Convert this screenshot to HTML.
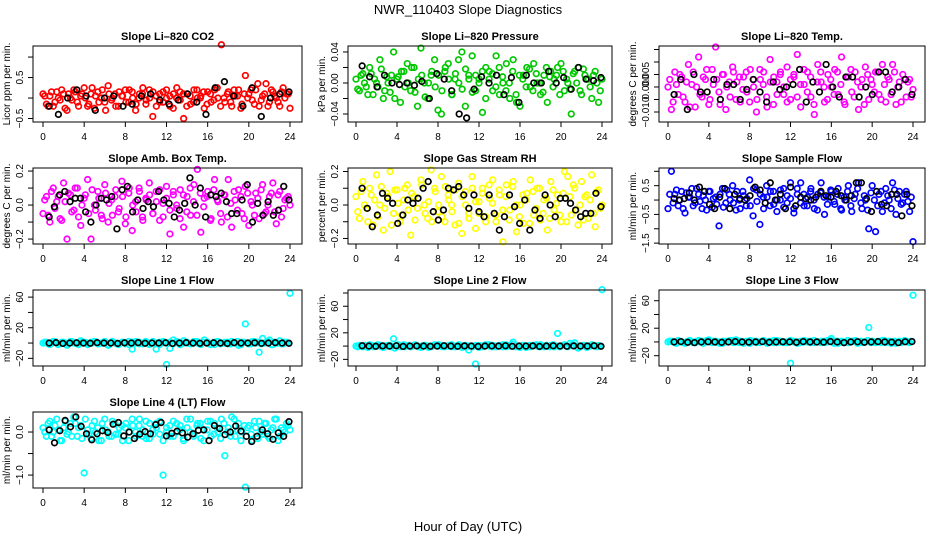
<!DOCTYPE html>
<html><head><meta charset="utf-8">
<style>
html,body{margin:0;padding:0;background:#fff;}
svg{display:block;font-family:"Liberation Sans",Arial,sans-serif;}
</style></head>
<body>
<svg id="chart" width="936" height="540" viewBox="0 0 936 540">
<text x="468" y="14" text-anchor="middle" font-size="13">NWR_110403  Slope Diagnostics</text>
<text x="468" y="531" text-anchor="middle" font-size="13">Hour of Day (UTC)</text>
</svg>
<script>
// ---- data ----
const co2Color=[0.1,-0.15,0.05,-0.2,0.15,-0.05,0.1,-0.3,0.0,0.2,-0.1,0.05,0.25,-0.2,0.1,-0.25,0.15,0.0,-0.1,0.3,-0.05,0.1,-0.2,0.05,0.2,-0.1,0.15,-0.3,0.0,0.1,-0.15,0.2,-0.45,0.05,-0.1,0.15,0.0,-0.2,0.1,0.25,-0.05,-0.5,0.1,-0.15,0.2,0.0,0.05,-0.25,0.15,-0.1,0.2,0.0,1.3,-0.1,0.15,-0.2,0.05,0.2,-0.15,0.55,0.1,-0.05,0.2,-0.2,0.05,0.35,-0.1,0.15,0.0,-0.2,0.25,0.1,-0.25];
const co2Color2=[0.05,-0.2,0.15,-0.1,0.0,0.2,-0.25,0.1,-0.05,0.15,-0.2,0.1,0.0,-0.15,0.25,0.05,-0.1,0.2,-0.3,0.1,0.0,-0.2,0.15,0.05,-0.1,0.2,0.0,-0.15,0.1,0.25,-0.05,0.0,0.15,-0.2,0.1,-0.1,0.2,0.05,-0.25,0.0,0.15,0.1,-0.2,0.05,-0.1,0.2,0.0,0.15,-0.15,0.1,-0.05,0.25,-0.2,0.0,0.1,-0.1,0.2,0.05,-0.25,0.1,0.0,0.2,-0.15,0.35,-0.05,0.1,-0.2,0.2,0.05,-0.1,0.15,0.0,0.1];
const co2Black=[-0.2,-0.4,0.0,0.2,0.05,-0.3,0.0,0.05,-0.2,-0.15,0.05,0.1,-0.05,-0.15,-0.05,0.1,-0.1,-0.4,0.25,0.4,0.05,-0.2,0.25,-0.45,0.0,0.1,0.15];
const presColor=[0.005,-0.01,0.012,-0.005,0.02,-0.015,0.0,0.03,-0.02,0.008,-0.012,0.04,0.005,-0.025,0.015,0.025,-0.01,0.02,-0.03,0.045,0.0,-0.02,0.01,0.03,-0.035,-0.04,0.015,0.025,-0.015,0.005,0.03,0.04,-0.03,0.01,0.035,-0.01,0.005,-0.038,0.02,0.015,-0.01,0.035,-0.015,0.0,0.025,-0.02,0.03,-0.025,-0.03,0.01,0.02,-0.005,0.025,0.0,-0.015,0.01,-0.025,0.015,0.005,0.02,0.025,-0.01,0.0,-0.04,0.015,0.02,-0.015,0.01,0.005,-0.02,0.015,-0.025,0.005];
const presColor2=[-0.008,0.01,0.0,-0.015,0.012,0.005,-0.005,0.018,-0.01,0.0,0.01,-0.02,0.008,0.015,-0.005,0.0,0.02,-0.012,0.005,0.01,-0.018,0.0,0.015,-0.005,0.01,-0.01,0.02,0.005,-0.015,0.012,0.0,-0.008,0.018,0.005,-0.012,0.01,0.0,0.015,-0.02,0.005,0.012,-0.005,0.02,0.008,-0.01,0.0,0.015,-0.015,0.01,0.005,-0.005,0.018,-0.01,0.012,0.0,-0.012,0.02,0.008,-0.005,0.01,-0.015,0.015,0.005,-0.008,0.012,0.0,-0.01,0.018,0.005,-0.005,0.01,0.0,-0.01];
const presBlack=[0.022,0.008,-0.005,0.01,0.0,-0.002,0.0,-0.003,0.002,-0.02,0.012,0.005,-0.01,-0.04,-0.045,-0.008,0.008,0.0,0.01,-0.015,0.007,-0.025,0.01,0.0,0.0,0.015,0.0,0.007,-0.008,0.02,0.005,0.003,0.007];
const tempColor=[0.0,-0.009,0.006,-0.003,0.004,-0.006,0.009,0.001,-0.008,0.012,-0.004,0.003,-0.007,0.007,0.016,-0.002,0.005,-0.009,0.002,0.008,-0.005,0.004,-0.001,0.006,-0.006,0.003,-0.01,0.007,0.001,-0.004,0.011,-0.007,0.002,0.005,-0.003,0.008,-0.005,0.004,0.013,-0.008,0.001,0.006,-0.004,-0.011,0.009,0.002,-0.006,0.005,0.0,0.007,-0.003,0.012,-0.007,0.004,-0.002,0.006,-0.009,0.003,0.008,-0.005,0.001,0.006,-0.003,0.009,-0.006,0.003,0.009,-0.007,0.002,0.005,-0.004,0.003,-0.001];
const tempColor2=[0.003,-0.006,0.001,0.005,-0.004,0.002,-0.008,0.006,0.0,-0.003,0.004,0.007,-0.005,0.001,0.003,-0.007,0.005,0.0,-0.004,0.006,0.002,-0.006,0.004,-0.002,0.007,0.0,-0.005,0.003,0.006,-0.008,0.002,0.004,-0.003,0.006,0.0,-0.006,0.003,0.005,-0.004,0.001,0.007,-0.002,0.004,-0.007,0.002,0.006,0.0,-0.005,0.003,-0.003,0.006,0.001,-0.006,0.004,0.007,-0.004,0.002,0.0,-0.007,0.005,0.003,-0.002,0.006,-0.005,0.001,0.004,-0.003,0.006,0.0,-0.006,0.003,0.002,-0.004];
const tempBlack=[-0.003,0.003,-0.009,0.005,-0.002,-0.002,0.003,-0.005,0.001,0.001,-0.005,-0.001,0.003,-0.002,-0.006,0.002,-0.001,0.0,0.001,0.007,-0.006,0.002,-0.002,0.009,0.0,-0.004,0.004,0.004,-0.004,0.0,-0.003,0.006,0.006,-0.002,0.0,0.003,-0.003];
const ambColor=[-0.05,0.05,-0.1,0.1,0.02,-0.08,0.13,-0.2,0.06,-0.03,0.1,-0.12,0.04,0.15,-0.2,0.0,0.08,-0.06,0.12,-0.1,0.03,0.05,-0.04,0.14,-0.11,0.07,-0.15,0.02,0.1,-0.07,0.04,0.13,-0.05,0.08,-0.09,0.01,0.11,-0.17,0.06,-0.02,0.09,-0.13,0.05,-0.06,0.12,0.21,-0.16,0.04,0.08,-0.08,0.15,0.02,-0.1,0.06,0.15,-0.13,0.03,0.09,-0.05,0.11,-0.12,0.0,0.07,-0.08,0.12,-0.04,0.05,0.13,-0.11,0.08,-0.02,0.04,0.0];
const ambColor2=[0.03,-0.06,0.08,-0.02,0.05,-0.09,0.02,0.07,-0.04,0.1,-0.07,0.0,0.06,-0.05,0.09,-0.03,0.04,-0.08,0.07,0.01,-0.06,0.09,-0.02,0.05,-0.07,0.1,0.0,-0.04,0.08,-0.09,0.03,0.06,-0.05,0.02,0.09,-0.07,0.04,-0.03,0.08,0.0,-0.08,0.06,-0.04,0.1,0.02,-0.06,0.07,-0.01,0.05,-0.09,0.09,0.03,-0.05,0.06,-0.07,0.01,0.08,-0.03,0.05,-0.08,0.07,0.02,-0.06,0.04,0.09,-0.05,0.0,0.07,-0.04,0.06,-0.07,0.03,0.05];
const ambBlack=[-0.07,-0.01,0.06,0.08,0.02,0.04,0.04,-0.04,-0.1,0.0,0.04,0.03,0.05,-0.14,0.09,0.11,-0.04,0.03,-0.02,0.02,-0.01,0.08,0.03,0.01,-0.07,-0.03,0.01,0.16,0.0,0.1,-0.07,0.06,0.05,0.07,0.02,-0.05,-0.05,0.03,0.12,-0.1,0.01,-0.06,0.02,-0.06,-0.03,0.11,0.03];
const rhColor=[0.05,-0.08,0.14,-0.02,0.1,-0.12,0.18,0.0,-0.15,0.07,0.2,-0.05,0.09,-0.1,0.03,0.12,-0.18,0.05,-0.02,0.15,0.0,-0.08,0.21,0.1,-0.04,0.17,-0.1,0.06,0.0,-0.12,0.13,-0.17,0.08,-0.05,0.17,-0.14,0.02,0.1,-0.07,0.04,0.15,-0.1,0.06,-0.22,0.12,-0.03,0.14,-0.16,0.0,-0.11,0.07,0.15,-0.06,0.1,-0.09,0.03,-0.15,0.14,-0.03,0.06,-0.1,0.2,0.17,-0.06,0.1,-0.12,0.14,0.05,-0.08,0.18,-0.13,0.09,0.0];
const rhColor2=[-0.04,0.08,0.0,-0.1,0.06,0.03,-0.07,0.11,-0.02,0.05,-0.12,0.09,0.01,-0.06,0.1,-0.03,0.07,-0.09,0.04,0.12,-0.05,0.02,-0.1,0.08,0.0,-0.07,0.11,0.03,-0.04,0.09,-0.11,0.05,0.0,-0.08,0.1,0.02,-0.05,0.07,-0.1,0.12,0.01,-0.06,0.09,-0.03,0.05,-0.09,0.11,0.0,-0.07,0.06,0.03,-0.11,0.08,-0.02,0.1,-0.05,0.04,-0.08,0.09,0.01,-0.06,0.07,-0.1,0.05,0.12,-0.03,0.0,-0.09,0.06,0.03,-0.05,0.08,-0.02];
const rhBlack=[0.1,-0.02,-0.13,-0.06,0.07,0.04,0.01,-0.11,-0.06,0.03,0.01,0.04,0.1,0.14,-0.04,-0.09,-0.03,0.1,0.09,0.11,0.06,-0.02,0.06,-0.04,-0.07,0.06,-0.05,-0.15,-0.07,0.06,-0.01,-0.11,0.03,-0.15,-0.03,-0.08,0.06,0.0,-0.07,0.04,0.04,0.01,-0.03,-0.07,-0.05,-0.05,0.07,-0.01];
const sfColor=[-0.3,1.0,0.2,-0.2,0.3,-0.45,0.1,0.4,-0.1,0.2,-0.3,0.0,0.3,-0.25,0.1,-0.9,0.4,-0.1,0.2,0.5,-0.35,0.0,0.3,-0.2,0.7,-0.55,0.35,-0.85,0.1,0.5,-0.2,0.3,-0.4,0.0,0.4,-0.1,0.6,-0.45,0.2,0.6,-0.2,0.1,0.4,-0.3,0.2,0.6,-0.5,0.1,0.3,-0.15,0.4,-0.35,0.0,0.5,-0.4,0.2,0.6,-0.3,0.0,-1.0,0.5,-1.1,0.2,-0.4,0.4,0.0,0.6,-0.5,0.3,-0.1,0.3,-0.4,-1.45];
const sfColor2=[0.2,-0.1,0.35,0.0,-0.3,0.25,0.1,-0.2,0.4,-0.05,0.15,-0.35,0.3,0.05,-0.15,0.2,-0.25,0.35,0.0,-0.1,0.3,-0.3,0.15,0.05,-0.2,0.4,-0.05,0.2,-0.3,0.1,0.3,-0.15,0.0,0.35,-0.25,0.15,0.05,-0.3,0.4,-0.1,0.2,-0.2,0.3,0.0,-0.35,0.25,0.1,-0.15,0.35,-0.05,0.2,-0.3,0.1,0.3,-0.2,0.05,0.4,-0.1,0.15,-0.35,0.25,0.0,-0.2,0.3,-0.1,0.15,-0.3,0.35,0.05,-0.15,0.2,-0.05,0.1];
const sfBlack=[0.05,0.0,0.05,0.25,0.0,0.45,0.3,-0.15,-0.3,0.1,0.4,-0.3,0.2,0.05,0.0,0.15,0.45,0.35,-0.1,0.6,0.0,0.2,-0.3,0.45,-0.2,0.1,0.05,0.0,0.1,0.3,0.15,0.1,0.3,0.15,0.0,0.15,0.6,0.6,0.05,-0.4,0.3,-0.15,-0.2,0.2,0.2,-0.55,0.2,-0.2];
const l1Color=[0,1,-2,2,0,-1,1,-3,2,0,-1,3,0,-2,1,2,-1,0,2,-3,1,0,-2,1,-1,2,-8,0,1,-1,2,-2,0,-8,1,2,-28,-7,4,1,-2,3,0,-1,2,0,-2,4,1,-1,-2,2,0,1,-1,2,0,-3,1,25,-1,2,0,-12,6,1,4,-2,0,3,-1,1,65];
const l1Color2=[1,-1,0,2,-2,1,0,-1,2,0,-2,1,1,-1,0,2,-1,0,1,-2,2,0,-1,1,0,-2,1,2,-1,0,1,-1,2,0,-2,1,0,1,-1,2,-2,0,1,-1,0,2,-1,1,0,-2,1,2,-1,0,1,-1,0,2,-2,1,0,-1,2,1,-1,0,2,-2,1,0,-1,1,0];
const l1Black=[0,0.5,-0.5,0,0.3,0,-0.3,0.5,0,0,-0.5,0.3,0,0.5,-0.3,0,0,0.3,-0.5,0,0.5,0,-0.3,0,0.3,0,-0.5,0.5,0,0,0.3,-0.3,0,0.5,0,-0.3];
const l2Color=[0,1,-1,0,2,-1,0,1,-2,0,1,11,0,-1,2,0,-1,1,0,-2,1,0,-1,2,0,1,-1,0,2,-1,1,0,-1,-6,0,-27,1,-1,2,0,1,-1,0,2,-1,1,6,0,-2,1,0,-1,1,0,2,-1,0,1,-1,19,0,2,-1,1,5,-3,0,1,-1,2,0,1,85];
const l2Color2=[-1,0,1,-2,1,0,2,-1,0,1,-1,-3,2,0,-1,1,0,2,-1,0,1,-2,0,1,2,-1,0,1,-1,0,2,-2,1,0,-1,1,-2,0,1,2,-1,0,1,-1,2,0,3,-1,0,1,-2,1,0,2,-1,0,1,-1,2,0,-1,1,0,4,2,-1,0,1,-2,0,1,-1,0];
const l2Black=[0.5,0,-0.3,0.3,0,0.5,-0.5,0,0.3,0,-0.3,0,0.5,0,-0.3,0.3,0,-0.5,0,0.3,0,0.5,-0.3,0,0,0.3,-0.5,0,0.5,0,-0.3,0.3,0,0,0.5,-0.3];
const l3Color=[0,1,-1,2,0,-2,1,0,-1,2,1,0,3,-1,1,0,-2,1,0,2,3,-1,0,1,-2,0,1,-1,2,0,1,-1,2,0,-1,0,-31,1,0,-1,2,0,1,-1,0,1,-1,2,5,0,-2,1,0,-1,1,2,0,-1,0,21,1,-1,0,2,-1,1,0,-2,1,0,1,-1,68];
const l3Color2=[1,0,-2,1,-1,0,2,-1,1,0,-2,2,0,1,-1,-2,1,0,2,-1,0,1,-2,0,2,1,-1,0,1,-2,0,2,-1,1,0,-1,2,0,-2,1,0,1,-1,2,0,-1,1,0,2,-2,1,0,-1,2,0,1,-2,1,0,2,-1,0,1,-1,2,0,-2,1,0,-1,2,0,1];
const l3Black=[0,0.5,-0.5,-1,0,0.3,0,-0.5,0,0.5,0,-0.3,0,0.5,-0.5,0,0.3,0,-0.5,0.5,0,0,-0.3,0.5,0,-1,0,0.3,-0.5,0,0.5,0,-0.3,-1,0.3,0.5];
const l4Color=[0.1,-0.1,0.25,0.0,0.3,-0.2,0.1,-0.05,0.2,0.35,-0.1,0.15,-0.95,0.05,-0.15,0.25,0.1,-0.2,0.3,0.0,-0.1,0.2,-0.05,0.15,0.1,-0.2,0.3,0.0,0.15,-0.1,0.25,-0.15,0.05,0.2,-0.05,-1.0,0.1,-0.1,0.25,0.0,0.15,-0.2,0.1,0.3,-0.05,0.2,-0.15,0.05,0.25,-0.1,0.2,0.0,0.3,-0.55,0.1,0.35,-0.1,0.2,0.0,-1.28,0.15,-0.2,0.1,0.25,-0.05,0.2,-0.15,0.1,0.3,-0.1,0.05,0.2,0.05];
const l4Color2=[0.0,0.2,-0.1,0.15,0.05,-0.2,0.25,0.0,-0.1,0.2,0.1,-0.15,0.3,-0.05,0.15,0.0,-0.2,0.2,0.05,-0.1,0.25,-0.05,0.1,-0.2,0.2,0.0,0.15,-0.1,0.3,0.05,-0.15,0.2,-0.05,0.1,0.25,-0.2,0.0,0.15,-0.1,0.2,0.05,-0.15,0.3,0.0,-0.1,0.15,0.2,-0.2,0.05,0.25,-0.05,0.1,-0.15,0.2,0.0,-0.1,0.3,0.05,-0.2,0.15,0.1,-0.05,0.25,-0.15,0.0,0.2,-0.1,0.05,0.3,-0.2,0.1,0.0,0.15];
const l4Black=[0.05,-0.25,0.03,0.27,0.12,0.35,0.13,-0.04,-0.18,-0.04,0.03,-0.01,0.18,0.22,-0.09,0.0,-0.15,-0.05,0.01,-0.04,0.17,0.22,-0.09,-0.03,0.02,-0.02,-0.12,-0.04,0.04,0.05,-0.2,0.15,0.08,-0.06,0.0,0.14,0.02,-0.1,-0.22,-0.1,0.05,-0.04,-0.17,-0.02,-0.1,0.24];
const xTickLabels=[0,4,8,12,16,20,24];
const hourStart=0, hourEnd=24, blackStart=0.6, blackEnd=23.9, series2Start=0.17, series2End=23.83;

// ---- layout ----
const colX=[[33,302,43,290],[348,612,356,602],[659,925,668,913]];
const rowY=[46,168,290,412]; const boxH=76;
const panels=[
 {name:'co2',title:'Slope Li\u2013820 CO2',ylab:'Licor ppm per min.',col:'#ff0000',c:co2Color,c2:co2Color2,b:co2Black,lo:-0.585,hi:1.27,ticks:[-0.5,0,0.5,1.0],labels:[[-0.5,'\u22120.5'],[0.5,'0.5']],r:0,k:0},
 {name:'pressure',title:'Slope Li\u2013820 Pressure',ylab:'kPa per min.',col:'#00c800',c:presColor,c2:presColor2,b:presBlack,lo:-0.0503,hi:0.0477,ticks:[-0.04,-0.02,0,0.02,0.04],labels:[[-0.04,'\u22120.04'],[0,'0.00'],[0.04,'0.04']],r:0,k:1},
 {name:'temp',title:'Slope Li\u2013820 Temp.',ylab:'degrees C per min.',col:'#ff00ff',c:tempColor,c2:tempColor2,b:tempBlack,lo:-0.014,hi:0.0164,ticks:[-0.01,-0.005,0,0.005,0.01,0.015],labels:[[-0.01,'\u22120.010'],[0,'0.000'],[0.005,'0.005']],r:0,k:2},
 {name:'amb-box-temp',title:'Slope Amb. Box Temp.',ylab:'degrees C per min.',col:'#ff00ff',c:ambColor,c2:ambColor2,b:ambBlack,lo:-0.229,hi:0.218,ticks:[-0.2,-0.1,0,0.1,0.2],labels:[[-0.2,'\u22120.2'],[0,'0.0'],[0.2,'0.2']],r:1,k:0},
 {name:'gas-stream-rh',title:'Slope Gas Stream RH',ylab:'percent per min.',col:'#ffff00',c:rhColor,c2:rhColor2,b:rhBlack,lo:-0.233,hi:0.221,ticks:[-0.2,-0.1,0,0.1,0.2],labels:[[-0.2,'\u22120.2'],[0,'0.0'],[0.2,'0.2']],r:1,k:1},
 {name:'sample-flow',title:'Slope Sample Flow',ylab:'ml/min per min.',col:'#0000ff',c:sfColor,c2:sfColor2,b:sfBlack,lo:-1.53,hi:1.115,ticks:[-1.5,-1,-0.5,0,0.5,1],labels:[[-1.5,'\u22121.5'],[-0.5,'\u22120.5'],[0.5,'0.5']],r:1,k:2},
 {name:'line-1-flow',title:'Slope Line 1 Flow',ylab:'ml/min per min.',col:'#00ffff',c:l1Color,c2:l1Color2,b:l1Black,lo:-30,hi:69.3,ticks:[-20,0,20,40,60],labels:[[-20,'\u221220'],[20,'20'],[60,'60']],r:2,k:0},
 {name:'line-2-flow',title:'Slope Line 2 Flow',ylab:'ml/min per min.',col:'#00ffff',c:l2Color,c2:l2Color2,b:l2Black,lo:-30,hi:84.5,ticks:[-20,0,20,40,60,80],labels:[[-20,'\u221220'],[20,'20'],[60,'60']],r:2,k:1},
 {name:'line-3-flow',title:'Slope Line 3 Flow',ylab:'ml/min per min.',col:'#00ffff',c:l3Color,c2:l3Color2,b:l3Black,lo:-35,hi:75.6,ticks:[-20,0,20,40,60],labels:[[-20,'\u221220'],[20,'20'],[60,'60']],r:2,k:2},
 {name:'line-4-flow',title:'Slope Line 4 (LT) Flow',ylab:'ml/min per min.',col:'#00ffff',c:l4Color,c2:l4Color2,b:l4Black,lo:-1.30,hi:0.465,ticks:[-1,-0.5,0],labels:[[-1,'\u22121.0'],[0,'0.0']],r:3,k:0}
];
const NS='http://www.w3.org/2000/svg';
const svg=document.getElementById('chart');
function mk(tag,attrs,parent){const e=document.createElementNS(NS,tag);for(const k in attrs)e.setAttribute(k,attrs[k]);(parent||svg).appendChild(e);return e;}

panels.forEach(p=>{
  const [bx0,bx1,ax0,ax1]=colX[p.k]; const by0=rowY[p.r], by1=by0+boxH;
  const xs=h=>ax0+(h-hourStart)/(hourEnd-hourStart)*(ax1-ax0);
  const ys=v=>by1-(v-p.lo)/(p.hi-p.lo)*(by1-by0);
  const g=mk('g',{});
  
  
  const t=mk('text',{x:(bx0+bx1)/2,y:by0-6,'text-anchor':'middle','font-size':11,'font-weight':'bold'},g);
  t.textContent=p.title;
  
  
  const pts=mk('g',{fill:'none','stroke-width':1.7},g);
  
  
  p.c.forEach((v,i)=>{
    const h=hourStart+i*(hourEnd-hourStart)/(p.c.length-1);
    const c=mk('circle',{cx:xs(h),cy:ys(v),r:2.8,stroke:p.col},pts);
    
    
  });
  p.c2.forEach((v,i)=>{
    const h=series2Start+i*(series2End-series2Start)/(p.c2.length-1);
    const c=mk('circle',{cx:xs(h),cy:ys(v),r:2.8,stroke:p.col},pts);
    
    
  });
  p.b.forEach((v,i)=>{
    const h=blackStart+i*(blackEnd-blackStart)/(p.b.length-1);
    const c=mk('circle',{cx:xs(h),cy:ys(v),r:2.8,stroke:'#000'},pts);
    
    
  });
  const box=mk('rect',{x:bx0,y:by0,width:bx1-bx0,height:boxH,fill:'none',stroke:'#000','stroke-width':1},g);
  
  
  const xa=mk('g',{},g);
  
  
  xTickLabels.forEach(h=>{
    mk('line',{x1:xs(h),x2:xs(h),y1:by1,y2:by1+5,stroke:'#000'},xa);
    const tl=mk('text',{x:xs(h),y:by1+18,'text-anchor':'middle','font-size':10},xa);
    tl.textContent=h;
  });
  const ya=mk('g',{},g);
  
  
  p.ticks.forEach(v=>{mk('line',{x1:bx0-5,x2:bx0,y1:ys(v),y2:ys(v),stroke:'#000'},ya);});
  p.labels.forEach(([v,s])=>{
    const y=ys(v), x=bx0-10;
    const tl=mk('text',{x:x,y:y,'text-anchor':'middle','font-size':10,transform:`rotate(-90 ${x} ${y})`},ya);
    tl.textContent=s;
  });
  const yx=bx0-23, yy=(by0+by1)/2;
  const yt=mk('text',{x:yx,y:yy,'text-anchor':'middle','font-size':10,transform:`rotate(-90 ${yx} ${yy})`},g);
  yt.textContent=p.ylab;
  
  
});
</script>
</body></html>
